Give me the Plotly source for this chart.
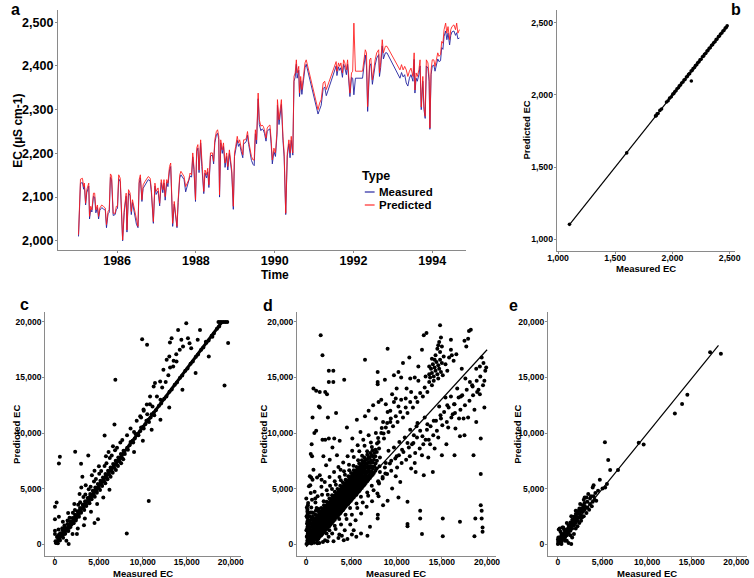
import plotly.graph_objects as go

W, H = 754, 578
FONT = "Liberation Sans, Arial, sans-serif"

# ---------------- panel a : time series ----------------
a_time = [
    1985.02,1985.07,1985.12,1985.15,1985.17,1985.20,1985.23,1985.28,1985.30,1985.33,
    1985.36,1985.40,1985.43,1985.46,1985.50,1985.53,1985.56,1985.61,1985.65,1985.70,
    1985.73,1985.77,1985.80,1985.83,1985.86,1985.90,1985.95,1985.98,1986.01,1986.04,
    1986.08,1986.11,1986.14,1986.18,1986.23,1986.25,1986.29,1986.33,1986.36,1986.39,
    1986.42,1986.46,1986.49,1986.53,1986.56,1986.59,1986.63,1986.66,1986.71,1986.75,
    1986.79,1986.84,1986.87,1986.92,1986.96,1986.99,1987.04,1987.08,1987.12,1987.16,
    1987.19,1987.22,1987.26,1987.29,
    1987.33,1987.36,1987.39,1987.41,1987.45,1987.49,1987.52,1987.55,1987.59,1987.62,
    1987.66,1987.70,1987.74,1987.79,1987.82,1987.85,1987.89,1987.92,1987.95,1987.99,
    1988.02,1988.05,1988.08,1988.12,1988.15,1988.18,1988.20,1988.23,1988.27,1988.30,
    1988.33,1988.37,1988.42,1988.45,1988.48,1988.52,1988.55,1988.58,1988.60,1988.63,
    1988.67,1988.70,1988.74,1988.78,1988.81,1988.85,1988.88,1988.91,1988.95,1988.98,
    1989.01,1989.05,1989.08,1989.11,1989.15,1989.19,1989.21,1989.25,1989.28,1989.31,
    1989.34,1989.38,1989.41,1989.45,1989.48,1989.51,1989.54,1989.58,1989.61,1989.65,
    1989.68,1989.71,1989.74,1989.78,1989.81,1989.84,1989.88,1989.91,1989.94,1989.98,
    1990.02,1990.06,1990.07,1990.11,1990.14,1990.17,1990.21,1990.24,1990.28,1990.32,
    1990.36,1990.39,1990.42,1990.46,1990.49,1990.52,1990.55,1990.57,1990.61,1990.63,
    1990.66,1990.69,1990.73,1990.77,1990.80,
    1991.10,1991.14,1991.18,1991.23,1991.27,1991.31,
    1991.52,1991.56,1991.58,1991.62,1991.65,1991.68,1991.72,1991.75,1991.78,1991.82,
    1991.85,1991.88,1991.91,1991.95,1991.98,1992.01,1992.05,1992.23,1992.26,
    1992.30,1992.33,1992.36,1992.41,1992.44,1992.48,1992.51,1992.55,1992.59,1992.64,
    1992.66,1992.69,1992.73,1992.76,1992.81,1992.85,
    1993.18,1993.22,1993.26,1993.30,1993.34,1993.38,1993.42,1993.46,1993.51,1993.54,
    1993.56,1993.59,1993.62,1993.66,1993.69,1993.72,1993.76,1993.79,1993.82,1993.85,
    1993.89,1993.92,1993.94,1993.97,1994.00,1994.04,1994.07,1994.10,1994.14,1994.17,
    1994.21,1994.24,1994.27,1994.30,1994.34,1994.37,1994.40,1994.44,1994.47,1994.50,
    1994.55,1994.59,1994.62,1994.65,1994.69,
]
a_predicted = [
    2014,2141,2143,2124,2132,2086,2117,2132,2056,2079,
    2071,2109,2109,2071,2082,2056,2075,2082,2079,2075,
    2037,2067,2071,2153,2149,2063,2063,2079,2079,2151,
    2143,2086,2002,2071,2109,2025,2117,2109,2067,2094,
    2079,2063,2044,2033,2140,2151,2094,2128,2136,2143,
    2147,2143,2117,2044,2132,2113,2121,2086,2140,2117,
    2140,2101,2140,2132,
    2170,2178,2056,2040,2090,2048,2033,2094,2151,2159,
    2151,2147,2124,2136,2140,2155,2151,2201,2170,2094,
    2212,2220,2162,2231,2178,2124,2113,2162,2151,2166,
    2128,2201,2201,2182,2231,2250,2254,2239,2105,2231,
    2208,2224,2178,2201,2170,2208,2185,2162,2079,2201,
    2216,2239,2224,2231,2212,2197,2231,2231,2235,2250,
    2227,2201,2193,2185,2185,2254,2231,2338,2277,2262,
    2265,2262,2254,2235,2258,2262,2265,2231,2185,2212,
    2201,2254,2323,2277,2307,2323,2239,2201,2063,2201,
    2231,2201,2239,2201,2376,2384,2414,2384,2399,2338,
    2376,2346,2376,2407,2414,
    2300,2315,2323,2361,2365,2346,
    2399,2410,2388,2407,2399,2407,2384,2414,2407,2391,
    2414,2376,2338,2384,2388,2498,2388,2388,2414,
    2437,2430,2307,2414,2418,2368,2391,2414,2430,2437,
    2384,2407,2460,2430,2445,2445,
    2391,2403,2391,2399,2391,2376,2388,2395,2376,2430,
    2345,2384,2376,2391,2414,2306,2376,2307,2285,2414,
    2407,2376,2258,2391,2414,2414,2399,2414,2430,2422,
    2426,2456,2452,2483,2498,2475,2490,2460,2483,2490,
    2494,2483,2498,2475,2483,
]
a_measured = [
    2010,2132,2133,2118,2126,2082,2110,2125,2050,2072,
    2066,2102,2100,2064,2076,2050,2070,2076,2073,2070,
    2030,2062,2065,2145,2140,2058,2060,2072,2074,2142,
    2135,2080,2000,2065,2102,2020,2110,2103,2060,2088,
    2073,2057,2038,2030,2132,2144,2090,2120,2128,2136,
    2140,2137,2110,2040,2125,2106,2114,2080,2133,2110,
    2132,2093,2134,2124,
    2162,2170,2048,2033,2084,2042,2030,2088,2144,2151,
    2145,2140,2112,2128,2133,2148,2146,2192,2163,2090,
    2204,2212,2156,2224,2170,2118,2108,2155,2144,2158,
    2122,2194,2196,2176,2224,2242,2246,2232,2100,2224,
    2200,2216,2168,2193,2162,2200,2178,2155,2072,2193,
    2208,2230,2216,2222,2204,2190,2222,2224,2228,2242,
    2220,2193,2184,2175,2172,2245,2222,2325,2266,2252,
    2256,2254,2246,2228,2250,2254,2256,2222,2176,2204,
    2193,2244,2310,2266,2296,2312,2230,2192,2060,2194,
    2222,2190,2230,2196,2365,2374,2404,2372,2390,2330,
    2366,2335,2366,2396,2404,
    2290,2300,2310,2348,2352,2332,
    2388,2400,2378,2398,2390,2396,2374,2404,2396,2380,
    2404,2366,2330,2374,2372,2334,2372,2372,2398,
    2425,2400,2296,2400,2405,2358,2380,2402,2418,2426,
    2376,2396,2446,2416,2430,2430,
    2372,2385,2375,2380,2361,2354,2372,2380,2365,2415,
    2338,2372,2365,2380,2400,2300,2365,2300,2280,2400,
    2395,2365,2255,2380,2400,2402,2388,2400,2416,2410,
    2412,2442,2438,2468,2480,2460,2475,2448,2470,2478,
    2480,2470,2476,2462,2464,
]
a_years = [1986, 1988, 1990, 1992, 1994]
a_ecticks = [2000, 2100, 2200, 2300, 2400, 2500]
a_types = ["Measured", "Predicted"]

# ---------------- panel b ----------------
b_measured = [1100, 1600, 1852, 1858, 1866, 1874, 1890, 1905, 1948, 1962, 1975, 1990,
              2003, 2012, 2020, 2031, 2040, 2052, 2060, 2071, 2080, 2092, 2101, 2110,
              2122, 2130, 2141, 2150, 2163, 2172, 2180, 2193, 2201, 2212, 2220, 2232,
              2241, 2250, 2262, 2271, 2280, 2291, 2302, 2310, 2321, 2330, 2342, 2351,
              2360, 2372, 2381, 2390, 2402, 2411, 2420, 2432, 2441, 2450, 2461, 2470,
              2478, 2165]
b_predicted = [1102, 1598, 1855, 1856, 1869, 1872, 1893, 1903, 1951, 1960, 1978, 1988,
               2006, 2010, 2023, 2029, 2043, 2050, 2063, 2069, 2083, 2090, 2104, 2108,
               2125, 2128, 2144, 2148, 2166, 2170, 2183, 2191, 2204, 2210, 2223, 2230,
               2244, 2248, 2265, 2269, 2283, 2289, 2305, 2308, 2324, 2328, 2345, 2349,
               2363, 2370, 2384, 2388, 2405, 2409, 2423, 2430, 2444, 2448, 2464, 2468,
               2480, 2097]
b_fit_x = [1100, 2480]
b_fit_y = [1100, 2480]
b_ticks = [1000, 1500, 2000, 2500]

# ---------------- panel c ----------------
c_band = [(120,90),(380,460),(690,720),(980,1100),(1270,1300),(1590,1720),(1880,1950),(2230,2380),
          (2470,2560),(2810,3000),(3090,3210),(3420,3650),(3700,3830),(4010,4300),(4280,4420),
          (4630,4930),(4890,5080),(5210,5520),(5480,5700),(5820,6170),(6090,6330),(6420,6800),
          (6680,6960),(7010,7420),(7290,7600),(7630,8050),(7880,8240),(8220,8680),(8490,8900),
          (8830,9300),(9080,9500),(9420,9930),(9690,10150),(10030,10560),(10280,10780),
          (10620,11190),(10880,11400),(11230,11820),(11480,12040),(11830,12450),(12080,12670),
          (12430,13080),(12680,13300),(13030,13720),(13280,13930),(13630,14350),(13880,14560),
          (14230,14980),(14480,15190),(14830,15610),(15080,15820),(15430,16240),(15680,16450),
          (16030,16870),(16280,17080),(16630,17500),(16880,17710),(17230,18130),(17480,18340),
          (17830,18760),(18080,18970),(18430,19390),(18680,19600)]
c_dense = [(60,250),(250,200),(330,700),(520,450),(610,980),(800,760),(870,1250),(1050,900),
           (1150,1500),(1330,1200),(1420,1800),(1600,1450),(1700,2050),(1870,1750),(1990,2350),
           (2140,2050),(2280,2650),(2400,2300),(2560,2950),(2700,2650),(2850,3250),(2950,2900),
           (3150,3550),(3260,3250),(3430,3850),(3560,3550),(3720,4150),(3850,3850),(4010,4500),
           (4120,4150),(4300,4800),(4420,4450),(4590,5100),(4720,4750),(4880,5400),(5000,5050),
           (5170,5700),(5300,5350),(5460,6000),(5600,5650),(5750,6300),(5900,5950),(6040,6600),
           (6180,6250),(6330,6900),(6470,6550),(6620,7200),(6760,6850),(6910,7500),(7050,7150),
           (7200,7800),(7340,7450),(7500,8100),(7640,7750),(7800,8400),(7950,8100),(8300,8500),
           (8600,9200),(8900,9150),(9200,9900),(9500,9800),(9800,10500),(10100,10400),
           (10400,11100),(10700,11000),(11000,11700),(11300,11600)]
c_spread = [(230,640),(470,870),(830,1430),(1080,1680),(1430,2130),(1660,2370),(2040,2830),
            (2270,3060),(2640,3540),(2870,3770),(3240,4240),(3460,4460),(3840,4940),(4060,5170),
            (4440,5640),(4660,5870),(5040,6340),(5260,6570),(5640,7040),(5860,7270),(6240,7740),
            (6460,7970),(6840,8440),(7060,8670),(7440,9140),(7660,9370),
            (330,80),(570,330),(930,570),(1170,930),(1530,1170),(1770,1530),(2130,1870),
            (2370,2130),(2730,2470),(2970,2830),(3330,3070),(3570,3430),(3930,3670),(4170,4030),
            (4530,4270),(4770,4630),(5130,4870),(5370,5230),(5730,5470),(5970,5830),(6330,6070),
            (6570,6430),(6930,6670),(7170,7030),(7530,7270),(7770,7630),
            (400,1300),(900,2000),(1500,2800),(2200,3600),(2800,4500),(3500,5300),(4200,6200),
            (5000,7000),(5800,7900),(6600,8800),(1300,300),(2000,900),(2600,1400),(3400,2300),
            (4100,2900),(4800,3600),(5500,4200),(6200,4900),(3000,5100),(3800,4100),(4500,6600),
            (6100,8300)]
c_upper = [(8200,9800),(8600,10400),(9000,10100),(9300,11100),(9800,11400),(10100,12000),
           (10500,11700),(10800,12600),(11100,12400),(11600,13300),(12000,13000),(12200,14100),
           (12600,14600),(12900,15200),(13100,15900),(13500,16500),(13800,17100),(14200,17500),
           (11230,14200),(11380,14500),(10820,13300),(10450,12560),(10080,12110),(9700,11510),
           (11970,14650),(12340,15700),(12710,16590),(13010,16890),(13450,15990),(13830,16440),
           (13270,18540),(14380,18390),(15130,18540),(15310,18090),(14570,17790),(15500,17640),
           (16240,18390),(17170,18230),(17910,18680),
           (9000,8300),(10000,9300),(11000,10300),(12000,11200),(13000,12300),(14500,13900),
           (16000,15400),(17500,16900),
           (18600,20000),(18800,20000),(19000,20000),(19200,20000),(19400,20000),(19600,20000)]
c_outliers = [(560,7860),(450,7260),(0,3350),(0,2240),(190,3740),(450,2450),(0,1200),(0,900),
              (2300,8310),(2970,7240),(3120,6070),(3790,7980),(5650,9780),(6770,10760),
              (6870,14800),(9920,18450),(10480,17940),(13080,18150),(14010,19280),(14940,19880),
              (16500,19280),(19700,18100),(19290,14290),(10670,3880),(8170,960),(1560,0),
              (4900,2240),(4500,1900),(3300,1700),(2500,900)]
c_fit_x = [0, 19000]
c_fit_y = [0, 20000]

# ---------------- panel d ----------------
d_core = [(30,0),(120,300),(60,650),(180,950),(20,1250),(150,1550),(90,1850),(200,2150),(40,2500),
          (130,2900),(70,3300),(210,3700),(10,4100),
          (280,100),(340,420),(310,780),(290,1100),(350,1400),(300,1750),(330,2050),
          (580,50),(630,350),(600,650),(570,980),(640,1250),(590,1560),(620,1880),(610,2250),
          (880,120),(930,400),(900,720),(870,1010),(940,1300),(890,1620),(920,1900),(910,2230),
          (1180,340),(1230,640),(1200,960),(1170,1240),(1240,1560),(1190,1840),(1220,2160),(1210,2460),
          (1480,660),(1530,940),(1500,1260),(1470,1540),(1540,1860),(1490,2140),(1520,2460),(1510,2760),
          (1780,910),(1830,1190),(1800,1510),(1770,1790),(1840,2110),(1790,2390),(1820,2710),(1810,3010),
          (2080,1210),(2130,1490),(2100,1810),(2070,2090),(2140,2410),(2090,2690),(2120,3010),(2110,3310),
          (2380,1510),(2430,1790),(2400,2110),(2370,2390),(2440,2710),(2390,2990),(2420,3310),(2410,3640),
          (2680,1760),(2730,2040),(2700,2360),(2670,2640),(2740,2960),(2690,3240),(2720,3560),(2710,3900),
          (2980,2060),(3030,2340),(3000,2660),(2970,2940),(3040,3260),(2990,3540),(3020,3860),(3010,4200),
          (3280,2360),(3330,2640),(3300,2960),(3270,3240),(3340,3560),(3290,3840),(3320,4160),(3310,4500),
          (3580,2610),(3630,2890),(3600,3210),(3570,3490),(3640,3810),(3590,4090),(3620,4410),(3610,4750),
          (3880,2910),(3930,3190),(3900,3510),(3870,3790),(3940,4110),(3890,4390),(3920,4710),(3910,5050),
          (4180,3210),(4230,3490),(4200,3810),(4170,4090),(4240,4410),(4190,4690),(4220,5010),(4210,5350),
          (4480,3510),(4530,3790),(4500,4110),(4470,4390),(4540,4710),(4490,4990),(4520,5310),(4510,5600),
          (4780,3760),(4830,4040),(4800,4360),(4770,4640),(4840,4960),(4790,5240),(4820,5560),(4810,5900),
          (5080,4060),(5130,4340),(5100,4660),(5070,4940),(5140,5260),(5090,5540),(5120,5860),(5110,6200),
          (5380,4360),(5430,4640),(5400,4960),(5370,5240),(5440,5560),(5390,5840),(5420,6160),(5410,6450),
          (5680,4610),(5730,4890),(5700,5210),(5670,5490),(5740,5810),(5690,6090),(5720,6410),(5710,6750),
          (5980,4910),(6030,5190),(6000,5510),(5970,5790),(6040,6110),(5990,6390),(6020,6710),(6010,7050),
          (6280,5210),(6330,5490),(6300,5810),(6270,6090),(6340,6410),(6290,6690),(6320,7010),(6310,7350),
          (6580,5510),(6630,5850),(6600,6200),(6570,6550),(6640,6900),(6610,7250),(6590,7600),
          (6880,5810),(6930,6200),(6900,6600),(6870,7000),(6920,7400),(6910,7850),
          (7180,6100),(7230,6550),(7200,7000),(7170,7500),(7210,8000),
          (7480,6400),(7520,7000),(7490,7600),(7510,8200),
          (7780,6800),(7820,7500),(7800,8300)]
d_core2 = [(150,150),(170,480),(140,800),(160,1120),(130,1420),(180,1750),(150,2050),(120,2380),(160,2700),(140,3100),(180,3500),
           (450,200),(470,520),(440,850),(460,1180),(430,1500),(480,1820),(450,2150),(420,2480),(460,2850),
           (750,250),(770,570),(740,880),(760,1200),(730,1520),(780,1830),(750,2120),(720,2450),(760,2800),
           (1050,450),(1070,800),(1040,1100),(1060,1400),(1030,1700),(1080,2000),(1050,2320),(1020,2650),(1060,3000),
           (1350,480),(1370,800),(1340,1100),(1360,1400),(1330,1700),(1380,2000),(1350,2300),(1320,2620),(1360,2950),
           (1650,780),(1670,1100),(1640,1400),(1660,1700),(1630,2000),(1680,2300),(1650,2600),(1620,2900),(1660,3250),
           (1950,1050),(1970,1350),(1940,1650),(1960,1950),(1930,2250),(1980,2550),(1950,2850),(1920,3150),(1960,3500),
           (2250,1350),(2270,1650),(2240,1950),(2260,2250),(2230,2550),(2280,2850),(2250,3150),(2220,3480),(2260,3820),
           (2550,1600),(2570,1900),(2540,2200),(2560,2500),(2530,2800),(2580,3100),(2550,3400),(2520,3750),(2560,4100),
           (2850,1900),(2870,2200),(2840,2500),(2860,2800),(2830,3100),(2880,3400),(2850,3700),(2820,4050),(2860,4400),
           (3150,2200),(3170,2500),(3140,2800),(3160,3100),(3130,3400),(3180,3700),(3150,4000),(3120,4350),(3160,4700),
           (3450,2450),(3470,2750),(3440,3050),(3460,3350),(3430,3650),(3480,3950),(3450,4250),(3420,4600),(3460,4950),
           (3750,2750),(3770,3050),(3740,3350),(3760,3650),(3730,3950),(3780,4250),(3750,4550),(3720,4900),(3760,5250),
           (4050,3050),(4070,3350),(4040,3650),(4060,3950),(4030,4250),(4080,4550),(4050,4850),(4020,5200),(4060,5550),
           (4350,3350),(4370,3650),(4340,3950),(4360,4250),(4330,4550),(4380,4850),(4350,5150),(4320,5480),(4360,5800),
           (4650,3600),(4670,3900),(4640,4200),(4660,4500),(4630,4800),(4680,5100),(4650,5400),(4620,5750),(4660,6100),
           (4950,3900),(4970,4200),(4940,4500),(4960,4800),(4930,5100),(4980,5400),(4950,5700),(4920,6050),(4960,6400),
           (5250,4200),(5270,4500),(5240,4800),(5260,5100),(5230,5400),(5280,5700),(5250,6000),(5220,6330),(5260,6650),
           (5550,4450),(5570,4750),(5540,5050),(5560,5350),(5530,5650),(5580,5950),(5550,6250),(5520,6600),(5560,6950),
           (5850,4750),(5870,5050),(5840,5350),(5860,5650),(5830,5950),(5880,6250),(5850,6550),(5820,6900),(5860,7250),
           (6150,5050),(6170,5350),(6140,5650),(6160,5950),(6130,6250),(6180,6550),(6150,6850),(6120,7200),(6160,7550),
           (6450,5350),(6470,5700),(6440,6050),(6460,6400),(6430,6750),(6480,7100),(6450,7450),(6420,7800),
           (6750,5650),(6770,6050),(6740,6450),(6760,6850),(6730,7250),(6780,7650),(6750,8050),
           (7050,5950),(7070,6400),(7040,6850),(7060,7300),(7030,7750),(7080,8200),
           (7350,6250),(7370,6800),(7340,7350),(7360,7900),(7330,8450),
           (7650,6600),(7670,7250),(7640,7900),(7660,8500),
           (8100,7000),(8150,7800),(8050,8600)]
d_fringe = [(300,2500),(560,3300),(640,4000),(930,4700),(1150,3250),(1260,4300),(1680,5150),(1750,4450),
            (2050,5600),(2270,4850),(2580,6050),(2640,5250),(3080,6500),(3150,5650),(3560,6950),
            (3680,6050),(4090,7350),(4180,6550),(4580,7900),(4730,7150),(5080,8400),(5260,7850),
            (5690,8900),(5870,8350),(6310,9400),(6450,8850),(6900,9800),(7150,9150),(7700,10000),
            (7950,9550),(8350,10450),(8550,9950),(8950,10900),(9350,11300),(640,2850),(1020,3750),
            (1380,3150),(1930,3850),(2390,4450),(2850,4950),(3280,5350),(3830,5750),(4280,6250),
            (4760,6650),(5230,7050),(5740,7550),(6180,7950),(6740,8350),(7260,8750),(7830,9050),
            (1450,100),(2080,350),(2480,650),(2870,950),(3020,250),(3250,1350),(3660,850),(3850,1750),
            (4260,1250),(4460,2250),(4870,1750),(5050,2650),(5460,2150),(5650,3250),(6070,2750),
            (6250,3750),(6680,3350),(6850,4350),(7280,3850),(7450,4850),(7870,4550),(8050,5450),
            (2350,250),(3560,550),(3940,750),(4560,450),(5050,850),(5540,650),(6060,950),(6770,750),
            (7050,1550),(7900,2300),(7920,2650),(5250,1250),(4150,350),(1250,80),(1850,180),(2250,950),
            (2560,1250),(3150,1650),(3650,2250),(4350,2650),(4850,3250),(5560,3650),(6050,4250),
            (6750,4650),(7250,5250),(7950,5650),(8450,6050),(8750,6350)]
d_lower = [(8000,5600),(8150,6500),(8450,5900),(8700,6900),(8950,6300),(9250,7250),(9400,6600),
           (9850,7700),(10050,6900),(10250,8000),(10550,7300),(10750,8300),(11050,7600),(11350,8700),
           (11450,7900),(11850,9100),(12050,8200),(12250,9600),(12550,8600),(12850,9700),(12950,9000),
           (13350,10300),(13550,9400),(13750,10600),(14050,9800),(14350,11100),(14450,10200),
           (14850,11600),(15050,10700),(15250,11900),(15550,11000),(15750,12300),(16050,11400),
           (16350,12600),(16450,11800),(16850,13200),(17050,12100),(17250,13400),(17550,12500),
           (17750,13900),(18050,12900),(18350,14300),(18450,13400),(18850,14700),(19050,13900),
           (19250,15100),(19550,14300),(19800,15600),(19900,15900),(19600,16300),(19200,13500),
           (18600,12100),(17900,11400),(17400,11300),(16900,11300),(16200,11700),(15600,12500),
           (14900,11300),(14100,11100),(13400,10800),(12600,10200),(11900,9800),(11200,9100),
           (10600,8500),(10000,7900),(9400,7500),(8800,7300),(12800,8000),(13700,9000),(14600,9600),
           (15700,10500),(16400,12600),(17100,13300),(18100,14600),(18900,13700),(19700,14700),
           (19200,16000),(18400,14200),(15400,13200),(16700,14000),(17600,14900),(13100,11400),
           (12200,10600),(11500,10300),(10900,9600),(10300,9200),(9700,8700),(9100,8400),
           (14700,12400),(16000,13300),(18800,15800),(19400,16800)]
d_upper = [(8000,9200),(8300,10000),(8600,9500),(8800,10500),(9100,10100),(9300,11000),(9600,10600),
           (9900,11500),(10100,11000),(10400,11900),(10700,11400),(11000,12300),(11200,11800),
           (11500,12800),(11800,12300),(12100,13200),(12300,12800),(12600,13600),(12900,13300),
           (13100,14100),(13400,13700),(13600,14600),(13900,14300),(13700,15000),(13900,15400),
           (14100,15100),(14300,15600),(14500,15300),(14700,15800),(14900,15500),(13800,15800),
           (14000,16200),(14200,15900),(14400,16400),(14600,16100),(14800,16600),(15000,16300),
           (13600,16000),(14100,14700),(14600,14900),(15100,15200),(14300,17000),(14500,17600),
           (14700,18200),(14900,18600),(14600,17900),(14800,17300),(15000,17800),(13600,15300),
           (13900,16700),(14200,16600),(15200,16900),(15400,16200),(15600,15600),(15800,16800),
           (16100,17000),(16300,16500),(16600,17100),(17500,18300),(17700,17800),(18000,19200),
           (14800,19700),(13000,18800),(12000,15000),(11500,14900),(11000,13100),(10500,13000),
           (10200,12400),(9700,12800),(9300,12000),(10000,14000),(12400,14700),(13200,15100),
           (12800,17500),(16000,18400),(17200,15800),(8500,11000),(9000,11900),(8800,12600)]
d_scatter = [(1600,18800),(1800,17000),(2500,15600),(3000,15600),(2500,14600),(3000,14600),(4200,14800),
             (1500,13700),(2100,13700),(2300,13500),(800,14000),(1100,13800),(1400,12400),(1500,12300),
             (2400,11400),(700,11400),(900,10000),(1100,10200),(1800,9400),(2100,9400),(2500,9500),
             (3100,9500),(2900,8700),(3700,9300),(600,9000),(500,8100),(650,7900),(400,6100),(550,6000),
             (700,5800),(800,6700),(300,5200),(450,5300),(1200,6000),(1500,6200),(1700,5800),(2600,7600),
             (2200,7100),(3400,8000),(3800,6700),(1900,7900),(3300,11800),(500,4600),(1000,4100),
             (6500,16600),(9000,17600),(7900,15500),(7900,14600),(7900,14400),(6900,12000),(7400,12500),
             (5600,11200),(6000,10100),(4500,10500),(5100,9500),(6500,11500),(7700,11300),(8300,13000),
             (9700,15200),(10200,15500),(11100,14000),(11600,13700),(9900,13100),(10500,15000),
             (8700,14800),(8000,12800),(12400,16000),(11400,16800),(9500,13500),(10700,16300),
             (13300,19000),(18200,19300),(17900,18500),(16000,17500),
             (11200,3800),(11200,1800),(11200,1600),(12600,3000),(12600,2300),(12800,900),(15100,2300),
             (15100,700),(17000,2000),(18600,700),(18700,2300),(19300,3500),(19400,3000),(19400,2300),
             (19500,1500),(19500,1100),(19300,9500),(19300,6300),(18500,8000),(15000,8000),(16400,8000),
             (14000,6500),(13000,6200),(12100,6500),(17500,9800),(10400,5600),(11600,6800),(9500,5000),
             (9000,3900),(8500,3500),(9900,6100),(8000,4300),(10200,4200),(12000,7300),(13500,7800),
             (15500,9000),(17000,9700),(18800,11000),(19700,12300),(16500,10400),(14200,8600),
             (13200,9400),(12300,10900),(11700,9000)]
d_fit_x = [0, 20000]
d_fit_y = [-250, 17500]

# ---------------- panel e ----------------
e_core = [(0,0),(30,200),(10,400),(50,600),(200,100),(220,350),(190,600),(400,200),(420,450),(380,700),
          (410,900),(600,400),(620,650),(590,900),(800,600),(820,850),(790,1100),(1000,800),(1020,1050),
          (990,1300),(1200,1000),(1220,1250),(1190,1500),(1210,1700),(1400,1200),(1420,1450),(1390,1700),
          (1410,1950),(1600,1400),(1620,1700),(1590,1950),(1610,2200),(1800,1700),(1820,1950),(1790,2200),
          (1810,2450),(2000,1900),(2020,2200),(1990,2450),(2010,2700),(2200,2100),(2220,2400),(2190,2700),
          (2210,2950),(2400,2400),(2420,2700),(2390,3000),(2410,3200),(2600,2600),(2620,2900),(2590,3200),
          (2800,2900),(2820,3200),(2790,3500),(3000,3100),(3020,3400),(2990,3700),(3300,3300),(3300,3800),
          (3600,3600),(3600,4100)]
e_fringe = [(100,1300),(300,1100),(500,1500),(700,1300),(200,1400),(1200,100),(1500,0),(1000,300),
            (1600,600),(1800,900),(2000,1400),(2200,1600),(2600,2100),(2900,2500),(3200,2800),(3500,3100),
            (3800,3400),(3900,3800),(4000,4300),(4300,3900),(4000,5300),(3900,5100),(4700,5800),(4500,4800),
            (5000,5000),(5300,5100),(5500,5400),(4200,4600),(3200,4200),(3400,4500),(2900,4000),(2500,3600),
            (2000,3000),(1500,2500),(1000,1900),(600,1500),(3000,4200),(3700,4300),(4100,4000),(800,300),
            (400,0),(1400,800),(2400,1900),(2700,2400)]
e_outliers = [(5270,9180),(5640,7560),(5860,6670),(6740,6670),(9060,9120),(9610,8970),(13110,11750),
              (13920,12620),(14510,13450),(17060,17280),(18270,17130)]
e_fit_x = [0, 18000]
e_fit_y = [30, 17900]

ec_ticks = [0, 5000, 10000, 15000, 20000]

COL_MEAS = "rgba(35,35,160,0.9)"
COL_PRED = "rgba(255,25,25,0.85)"


def unzip(*groups):
    xs, ys = [], []
    for g in groups:
        for m, p in g:
            xs.append(m)
            ys.append(p)
    return xs, ys


fig = go.Figure()

# panel a
fig.add_trace(go.Scatter(x=a_time, y=a_measured, mode="lines", name=a_types[0], showlegend=False,
                         line=dict(color=COL_MEAS, width=1), xaxis="x", yaxis="y"))
fig.add_trace(go.Scatter(x=a_time, y=a_predicted, mode="lines", name=a_types[1], showlegend=False,
                         line=dict(color=COL_PRED, width=1), xaxis="x", yaxis="y"))

MK = dict(color="black", size=4, line=dict(width=0))

# panel b
fig.add_trace(go.Scatter(x=b_fit_x, y=b_fit_y, mode="lines", line=dict(color="black", width=1.2),
                         showlegend=False, xaxis="x2", yaxis="y2"))
fig.add_trace(go.Scatter(x=b_measured, y=b_predicted, mode="markers", marker=dict(color="black", size=3.6),
                         showlegend=False, xaxis="x2", yaxis="y2"))

# panel c
cx, cy = unzip(c_band, c_dense, c_spread, c_upper, c_outliers)
fig.add_trace(go.Scatter(x=c_fit_x, y=c_fit_y, mode="lines", line=dict(color="black", width=3),
                         showlegend=False, xaxis="x3", yaxis="y3"))
fig.add_trace(go.Scatter(x=cx, y=cy, mode="markers", marker=MK, showlegend=False, xaxis="x3", yaxis="y3"))

# panel d
dxs, dys = unzip(d_core, d_core2, d_fringe, d_lower, d_upper, d_scatter)
fig.add_trace(go.Scatter(x=dxs, y=dys, mode="markers", marker=MK, showlegend=False, xaxis="x4", yaxis="y4"))
fig.add_trace(go.Scatter(x=d_fit_x, y=d_fit_y, mode="lines", line=dict(color="black", width=1.2),
                         showlegend=False, xaxis="x4", yaxis="y4"))

# panel e
exs, eys = unzip(e_core, e_fringe, e_outliers)
fig.add_trace(go.Scatter(x=exs, y=eys, mode="markers", marker=MK, showlegend=False, xaxis="x5", yaxis="y5"))
fig.add_trace(go.Scatter(x=e_fit_x, y=e_fit_y, mode="lines", line=dict(color="black", width=1.2),
                         showlegend=False, xaxis="x5", yaxis="y5"))


def dom_x(a, b):
    return [a / W, b / W]


def dom_y(top, bottom):
    return [1 - bottom / H, 1 - top / H]


def ax(domain, rng, size, tickvals, fmt, anchor, standoff):
    return dict(domain=domain, range=rng, anchor=anchor, showline=True, linecolor="#8a8a8a",
                linewidth=1.3, ticks="outside", ticklen=2, tickcolor="#8a8a8a", tickwidth=1,
                showgrid=False, zeroline=False, tickvals=tickvals, tickformat=fmt,
                ticklabelstandoff=standoff,
                tickfont=dict(family=FONT, size=size, color="black", weight="bold"))


layout = dict(
    width=W, height=H, autosize=False, margin=dict(l=0, r=0, t=0, b=0),
    paper_bgcolor="white", plot_bgcolor="white",
    font=dict(family=FONT, color="black"), showlegend=False,
    xaxis=ax(dom_x(49, 465), [1984.5, 1994.85], 12.5, a_years, "d", "y", -3),
    yaxis=ax(dom_y(10, 250), [1979, 2528], 12.5, a_ecticks, ",d", "x", -1),
    xaxis2=ax(dom_x(558, 740), [990, 2549], 8.7, b_ticks, ",d", "y2", -4),
    yaxis2=ax(dom_y(10, 251), [917, 2590], 8.7, b_ticks, ",d", "x2", -1),
    xaxis3=ax(dom_x(36, 236), [-1100, 21200], 8.5, ec_ticks, ",d", "y3", -4),
    yaxis3=ax(dom_y(312, 556), [-1076, 20900], 8.5, ec_ticks, ",d", "x3", -1),
    xaxis4=ax(dom_x(293, 496), [-1000, 21000], 8.5, ec_ticks, ",d", "y4", -4),
    yaxis4=ax(dom_y(312, 556), [-1076, 20900], 8.5, ec_ticks, ",d", "x4", -1),
    xaxis5=ax(dom_x(549, 752), [-1100, 21200], 8.5, ec_ticks, ",d", "y5", -4),
    yaxis5=ax(dom_y(312, 556), [-1076, 20900], 8.5, ec_ticks, ",d", "x5", -1),
)
fig.update_layout(**layout)


def ann(text, x, y, size, angle=0, xanchor="center"):
    fig.add_annotation(text=text, x=x / W, y=1 - y / H, xref="paper", yref="paper",
                       showarrow=False, textangle=angle, xanchor=xanchor, yanchor="middle",
                       borderpad=0,
                       font=dict(family=FONT, size=size, color="black", weight="bold"))


# legend of panel a: title, key lines, labels
ann("Type", 358, 176, 12.5, xanchor="left")
for key_y, col, label in [(192, COL_MEAS, a_types[0]), (205, COL_PRED, a_types[1])]:
    fig.add_shape(type="line", xref="paper", yref="paper",
                  x0=362 / W, x1=372 / W, y0=1 - key_y / H, y1=1 - key_y / H,
                  line=dict(color=col, width=1.3))
    ann(label, 375, key_y, 11.5, xanchor="left")

# panel letters
ann("a", 6, 9, 16)
ann("b", 741, 9, 16)
ann("c", 15, 304, 16)
ann("d", 263, 305, 16)
ann("e", 514, 305, 16)
# axis titles
ann("EC (µS cm-1)", 8, 131, 12, -90)
ann("Time", 270, 275, 12)
ann("Predicted EC", 526, 130, 9.5, -90)
ann("Measured EC", 649, 268, 9.5)
ann("Predicted EC", 6, 434, 9.5, -90)
ann("Measured EC", 136, 573, 9.5)
ann("Predicted EC", 258, 434, 9.5, -90)
ann("Measured EC", 394, 573, 9.5)
ann("Predicted EC", 517, 434, 9.5, -90)
ann("Measured EC", 650, 573, 9.5)

fig.write_html(
    "out.html",
    config={"displayModeBar": False},
    post_script="document.documentElement.style.margin='0';document.body.style.margin='0';"
                "document.body.style.padding='0';document.body.style.overflow='hidden';",
)
